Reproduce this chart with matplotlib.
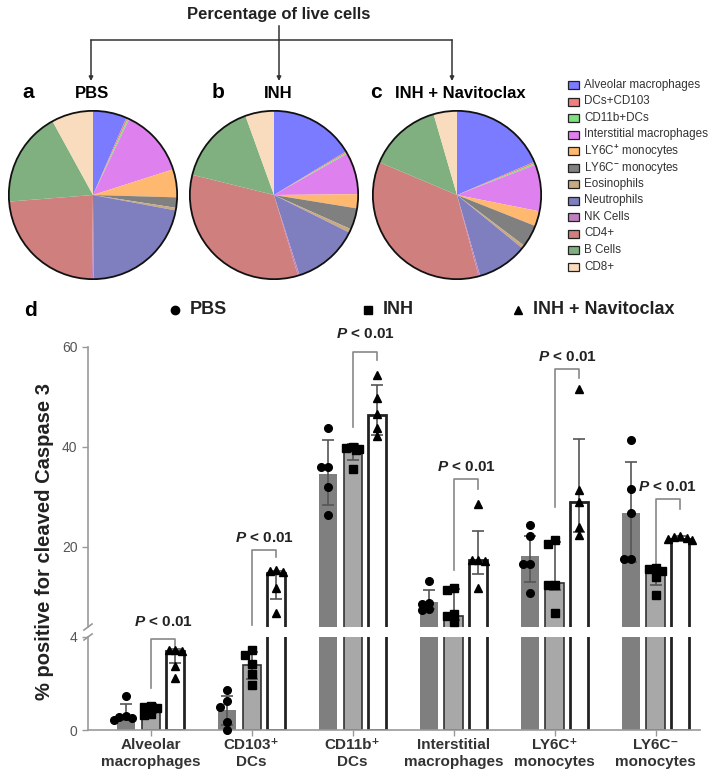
import matplotlib
matplotlib.use("Agg")
import matplotlib.pyplot as plt
import numpy as np
from matplotlib.patches import Rectangle, Circle

plt.rcParams['font.family'] = ['Liberation Sans', 'DejaVu Sans']
plt.rcParams['mathtext.fontset'] = 'custom'
plt.rcParams['mathtext.rm'] = 'Liberation Sans:bold'
plt.rcParams['mathtext.it'] = 'Liberation Sans:bold:italic'
plt.rcParams['mathtext.bf'] = 'Liberation Sans:bold'

# ---------------- pie data ----------------
cell_types = ["Alveolar macrophages", "DCs+CD103", "CD11b+DCs", "Interstitial macrophages",
              "LY6C$^{+}$ monocytes", "LY6C$^{-}$ monocytes", "Eosinophils", "Neutrophils",
              "NK Cells", "CD4+", "B Cells", "CD8+"]
pie_colors = ["#7b7bff", "#f08080", "#80e080", "#df80ef", "#ffb870", "#808080",
              "#c8aa82", "#7f7fbf", "#c080c0", "#d07f7f", "#80b080", "#f9dcbe"]
pbs_pie = [6.5, 0.3, 0.3, 13.0, 5.4, 2.0, 0.5, 22.0, 0.3, 23.6, 18.3, 8.0]
inh_pie = [16.3, 0.25, 0.25, 8.0, 2.7, 4.1, 0.7, 12.7, 0.3, 33.4, 15.6, 5.5]
navi_pie = [18.6, 0.3, 0.3, 9.0, 2.9, 4.3, 0.6, 9.7, 0.3, 35.6, 14.2, 4.5]

# ---------------- bar data ----------------
groups = ["Alveolar\nmacrophages", "CD103\u207a\nDCs", "CD11b\u207a\nDCs",
          "Interstitial\nmacrophages", "LY6C\u207a\nmonocytes", "LY6C\u207b\nmonocytes"]
series = ["PBS", "INH", "INH + Navitoclax"]

pbs_mean = [0.58, 0.84, 34.7, 9.1, 18.2, 26.9]
pbs_lo = [0.45, 0.20, 28.5, 7.6, 13.1, 17.0]
pbs_hi = [1.12, 1.45, 41.4, 11.5, 22.2, 37.1]
inh_mean = [1.08, 2.81, 40.1, 6.2, 12.9, 15.3]
inh_lo = [0.75, 2.20, 37.5, 5.5, 11.5, 12.5]
inh_hi = [1.10, 3.35, 40.6, 11.7, 21.1, 15.8]
navi_mean = [3.40, 14.8, 46.4, 17.4, 29.1, 21.7]
navi_lo = [2.90, 9.6, 42.5, 14.7, 23.0, 21.3]
navi_hi = [3.50, 15.2, 52.4, 23.3, 41.6, 22.3]

pbs_pts = [[1.45, 0.62, 0.55, 0.5, 0.45], [1.7, 1.23, 1.01, 0.36, 0.0],
           [43.9, 36.1, 36.1, 32.1, 26.5], [13.3, 8.9, 8.6, 7.7, 7.4],
           [24.4, 22.2, 16.7, 16.7, 10.9], [41.5, 31.7, 26.9, 17.7, 17.7]]
inh_pts = [[1.05, 1.0, 0.95, 0.7, 0.65], [3.45, 3.23, 2.83, 2.39, 1.94],
           [40.0, 39.8, 39.6, 39.4, 35.7], [11.9, 11.4, 6.6, 6.3, 5.0],
           [21.4, 20.7, 12.4, 12.4, 6.9], [15.9, 15.6, 15.2, 14.1, 10.4]]
navi_pts = [[3.45, 3.45, 3.4, 2.75, 2.25], [15.4, 15.3, 15.1, 11.8, 6.8],
            [54.5, 49.9, 46.6, 43.9, 42.3], [28.7, 17.5, 17.4, 17.3, 11.9],
            [51.7, 31.5, 29.1, 24.1, 22.4], [22.3, 22.1, 21.9, 21.6, 21.4]]

p_label = r"$P$ < 0.01"
br_top = [3.9, 19.5, 59.1, 33.6, 55.6, 29.6]
br_left = [1.8, 4.4, 44.1, 15.5, 28.1, 16.1]
br_right = [3.6, 18.1, 57.4, 31.7, 53.9, 27.7]

# ---------------- figure ----------------
W, H = 726, 780
fig = plt.figure(figsize=(W / 100, H / 100), dpi=100)

def fx(x):
    return x / W

def fy(y):
    return 1 - y / H

ov = fig.add_axes([0, 0, 1, 1], zorder=5)
ov.set_xlim(0, W)
ov.set_ylim(H, 0)
ov.axis('off')
ov.patch.set_alpha(0)

lc = '#333333'
ov.text(279, 15, "Percentage of live cells", ha='center', va='center',
        fontsize=12, fontweight='bold', color='#222')
ov.plot([91, 452], [40, 40], color=lc, lw=1.1)
ov.plot([279, 279], [26, 40], color=lc, lw=1.1)
for xx in [91, 279, 452]:
    ov.annotate("", xy=(xx, 81), xytext=(xx, 40),
                arrowprops=dict(arrowstyle='-|>', color=lc, lw=1.1,
                                mutation_scale=6, shrinkA=0, shrinkB=0))

ov.text(22, 93, "a", fontsize=15, fontweight='bold', ha='left', va='center')
ov.text(92, 93, "PBS", fontsize=12, fontweight='bold', ha='center', va='center')
ov.text(212, 93, "b", fontsize=15, fontweight='bold', ha='left', va='center')
ov.text(278, 93, "INH", fontsize=12, fontweight='bold', ha='center', va='center')
ov.text(370, 93, "c", fontsize=15, fontweight='bold', ha='left', va='center')
ov.text(460, 93, "INH + Navitoclax", fontsize=12, fontweight='bold', ha='center', va='center')

pie_r = 85
for (cx, cy), vals in zip([(93, 195), (274, 195), (457, 195)], [pbs_pie, inh_pie, navi_pie]):
    ax = fig.add_axes([fx(cx - pie_r), fy(cy + pie_r), 2 * pie_r / W, 2 * pie_r / H])
    ax.pie(vals, colors=pie_colors, startangle=90, counterclock=False,
           wedgeprops=dict(linewidth=0))
    ax.add_patch(Circle((0, 0), 1, fill=False, ec='#111', lw=1.3))
    ax.set_xlim(-1.01, 1.01)
    ax.set_ylim(-1.01, 1.01)
    ax.set_aspect('equal')
    ax.axis('off')

for i, (lab, col) in enumerate(zip(cell_types, pie_colors)):
    yy = 85 + i * 16.5
    ov.add_patch(Rectangle((568, yy - 4), 11, 8, fc=col, ec='#222', lw=0.9))
    ov.text(584, yy, lab, fontsize=8.4, color='#333', ha='left', va='center')

# ---------------- bar chart ----------------
x0px, x1px = 88, 700
upper = fig.add_axes([fx(x0px), fy(627), (x1px - x0px) / W, (627 - 347) / H])
lower = fig.add_axes([fx(x0px), fy(730), (x1px - x0px) / W, (730 - 637) / H])
xlim = (-0.62, 5.44)
for a in (upper, lower):
    a.set_xlim(*xlim)
    a.patch.set_alpha(0)
    for s in ['top', 'right']:
        a.spines[s].set_visible(False)
    a.spines['left'].set_color('#999')
    a.spines['left'].set_linewidth(1.2)
    a.tick_params(axis='y', colors='#999', labelcolor='#555', labelsize=10,
                  length=4, width=1.0)
upper.set_ylim(4, 60)
upper.spines['bottom'].set_visible(False)
upper.set_xticks([])
upper.set_yticks([20, 40, 60])
lower.set_ylim(0, 4)
lower.set_yticks([0, 4])
lower.spines['bottom'].set_color('#999')
lower.spines['bottom'].set_linewidth(1.2)
lower.set_xticks(np.arange(len(groups)))
lower.set_xticklabels(groups, fontsize=11, fontweight='bold', color='#333', linespacing=1.2)
lower.tick_params(axis='x', colors='#999', labelcolor='#333', length=4, width=1.0, pad=2)

x = np.arange(len(groups))
off = 0.245
bw = 0.18
specs = [
    (pbs_mean, pbs_lo, pbs_hi, pbs_pts, -off, dict(color='#7f7f7f', lw=0), 'o', 5.5),
    (inh_mean, inh_lo, inh_hi, inh_pts, 0.0, dict(color='#a8a8a8', ec='#333', lw=1.2), 's', 5.2),
    (navi_mean, navi_lo, navi_hi, navi_pts, off, dict(color='white', ec='#222', lw=2.0), '^', 5.7),
]

def ypx(v):
    return 730 - v * 23 if v <= 4 else 627 - (v - 4) * 5

def swarm(vals):
    placed = []
    res = []
    for v in vals:
        for c in [0, -0.065, 0.065, -0.12, 0.12, -0.03, 0.03]:
            ok = all(np.hypot((c - d) * 101, ypx(v) - yy) >= 6.0 for d, yy in placed)
            if ok:
                break
        placed.append((c, ypx(v)))
        res.append(c)
    return res

for mean, lo, hi, pts, o, bstyle, mk, ms in specs:
    mean = np.array(mean)
    for a in (upper, lower):
        a.bar(x + o, mean, width=bw, zorder=2, **bstyle)
        a.errorbar(x + o, mean, yerr=[mean - np.array(lo), np.array(hi) - mean],
                   fmt='none', ecolor='#555', elinewidth=1.2, capsize=4, capthick=1.2,
                   zorder=3)
    for gi, vals in enumerate(pts):
        offs = swarm(vals)
        for v, d in zip(vals, offs):
            a = lower if v <= 4 else upper
            a.plot(x[gi] + o + d, v, marker=mk, ms=ms, color='black', mec='black',
                   ls='none', zorder=4, clip_on=False)

bc = '#888888'
for gi in range(len(groups)):
    xl, xr = x[gi], x[gi] + off
    a = lower if br_top[gi] <= 4 else upper
    a.plot([xl, xl, xr, xr], [br_left[gi], br_top[gi], br_top[gi], br_right[gi]],
           color=bc, lw=1.2, clip_on=False, zorder=1)
    ty = 17 if gi in (0, 2) else 12
    a.annotate(p_label, xy=((xl + xr) / 2, br_top[gi]), xytext=(0, ty * 0.72),
               textcoords='offset points', ha='center', va='center',
               fontsize=11, fontweight='bold', color='#222', annotation_clip=False)

for yy in (627, 637):
    ov.plot([84, 92], [yy + 3, yy - 3], color='#999', lw=1.2)

fig.text(fx(45), fy(542), "% positive for cleaved Caspase 3", rotation=90,
         ha='center', va='center', fontsize=14.5, fontweight='bold', color='#222')

ov.text(24, 310, "d", fontsize=15, fontweight='bold', ha='left', va='center')
for (mx, mk), lab in zip([(175, 'o'), (368, 's'), (518, '^')], series):
    ov.plot(mx, 310, marker=mk, ms=6, color='black', ls='none')
    ov.text(mx + 15, 310, lab, fontsize=13, fontweight='bold', ha='left', va='center',
            color='#222')

fig.savefig("out.png", dpi=100)
